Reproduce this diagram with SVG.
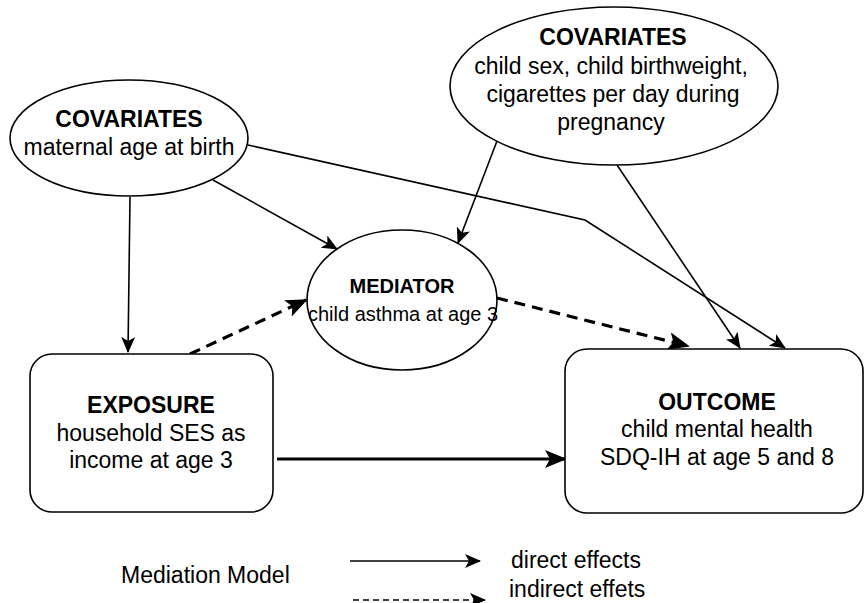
<svg xmlns="http://www.w3.org/2000/svg" width="865" height="603" viewBox="0 0 865 603">
<style>
.shape{fill:#fff;stroke:#000;stroke-width:1.6}
text{font-family:"Liberation Sans",Arial,sans-serif;fill:#000;text-anchor:middle}
.b{font-weight:bold;font-size:23px}
.t{font-size:23px}
.m{font-size:20px}
.mb{font-size:20px;font-weight:bold}
.thin{fill:none;stroke:#000;stroke-width:1.6}
.thick{fill:none;stroke:#000;stroke-width:3.2}
.dash{fill:none;stroke:#000;stroke-width:3.2;stroke-dasharray:11 7}
.legend{font-size:23px;text-anchor:start}
</style>
<defs>
<marker id="a" markerUnits="userSpaceOnUse" viewBox="0 0 16 14" markerWidth="16" markerHeight="14" refX="15" refY="7" orient="auto">
<path d="M0,0 L16,7 L0,14 L4,7 Z" fill="#000"/>
</marker>
<marker id="ab" markerUnits="userSpaceOnUse" viewBox="0 0 22 18" markerWidth="22" markerHeight="18" refX="20" refY="9" orient="auto">
<path d="M0,0 L22,9 L0,18 L5,9 Z" fill="#000"/>
</marker>
</defs>
<g id="connectors">
<path class="thin" d="M130,197 L128,352" marker-end="url(#a)"/>
<path class="thin" d="M213,180 L337,249" marker-end="url(#a)"/>
<path class="thin" d="M248,145 L585,220 L785,348" marker-end="url(#a)"/>
<path class="thin" d="M497,141 L458,243" marker-end="url(#a)"/>
<path class="thin" d="M617,165 L740,348" marker-end="url(#a)"/>
<path class="dash" d="M190,354 L306,300" marker-end="url(#ab)"/>
<path class="dash" d="M497,298 L688,346" marker-end="url(#ab)"/>
<path class="thick" d="M277,459 L565,459" marker-end="url(#ab)"/>
</g>
<g id="cov1">
<ellipse class="shape" cx="129" cy="138" rx="119" ry="58"/>
<text class="b" x="129" y="127">COVARIATES</text>
<text class="t" x="129" y="155">maternal age at birth</text>
</g>
<g id="cov2">
<ellipse class="shape" cx="614" cy="86" rx="164" ry="79"/>
<text class="b" x="613" y="45">COVARIATES</text>
<text class="t" x="611" y="74">child sex, child birthweight,</text>
<text class="t" x="613" y="102">cigarettes per day during</text>
<text class="t" x="611" y="130">pregnancy</text>
</g>
<g id="mediator">
<ellipse class="shape" cx="402" cy="300" rx="95" ry="70"/>
<text class="mb" x="402" y="293">MEDIATOR</text>
<text class="m" x="403" y="321">child asthma at age 3</text>
</g>
<g id="exposure">
<rect class="shape" x="30" y="354" width="243" height="158" rx="22" ry="22"/>
<text class="b" x="151" y="413">EXPOSURE</text>
<text class="t" x="151" y="441">household SES as</text>
<text class="t" x="151" y="468">income at age 3</text>
</g>
<g id="outcome">
<rect class="shape" x="565" y="349" width="298" height="164" rx="22" ry="22"/>
<text class="b" x="717" y="410">OUTCOME</text>
<text class="t" x="717" y="437">child mental health</text>
<text class="t" x="717" y="465">SDQ-IH at age 5 and 8</text>
</g>
<g id="legend">
<text class="legend" x="121" y="583">Mediation Model</text>
<path class="thin" d="M350,561 L480,561" stroke-width="2" marker-end="url(#a)"/>
<path class="thin" d="M353,600 L485,600" stroke-dasharray="6 4" marker-end="url(#a)"/>
<text class="legend" x="511" y="568">direct effects</text>
<text class="legend" x="509" y="597">indirect effets</text>
</g>
</svg>
